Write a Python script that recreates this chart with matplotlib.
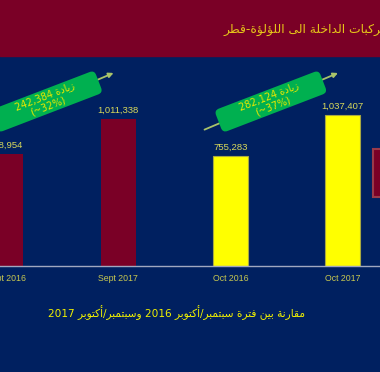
import re
import math
import matplotlib
matplotlib.use('Agg')
import matplotlib.pyplot as plt
import matplotlib.transforms as mtransforms
from matplotlib.patches import Rectangle, FancyBboxPatch

NAVY = '#002060'
MAROON = '#7A0026'
YELLOW = '#FFFF00'
GREEN = '#00B050'
LBL = '#D9D95A'

cats = ['Sept 2016', 'Sept 2017', 'Oct 2016', 'Oct 2017']
vals = [768954, 1011338, 755283, 1037407]
bar_cols = [MAROON, MAROON, YELLOW, YELLOW]
title_txt = 'عدد المركبات الداخلة الى اللؤلؤة-قطر'
foot_txt = 'مقارنة بين فترة سبتمبر/أكتوبر 2016 وسبتمبر/أكتوبر 2017'
inc_word = 'زيادة'

# minimal arabic shaping (presentation forms) + right-to-left ordering
AR = {
    'ا': (0xFE8D, 0xFE8E, None, None), 'أ': (0xFE83, 0xFE84, None, None),
    'ب': (0xFE8F, 0xFE90, 0xFE91, 0xFE92), 'ة': (0xFE93, 0xFE94, None, None),
    'ت': (0xFE95, 0xFE96, 0xFE97, 0xFE98), 'خ': (0xFEA5, 0xFEA6, 0xFEA7, 0xFEA8),
    'د': (0xFEA9, 0xFEAA, None, None), 'ر': (0xFEAD, 0xFEAE, None, None),
    'ز': (0xFEAF, 0xFEB0, None, None), 'س': (0xFEB1, 0xFEB2, 0xFEB3, 0xFEB4),
    'ط': (0xFEC1, 0xFEC2, 0xFEC3, 0xFEC4), 'ع': (0xFEC9, 0xFECA, 0xFECB, 0xFECC),
    'ف': (0xFED1, 0xFED2, 0xFED3, 0xFED4), 'ق': (0xFED5, 0xFED6, 0xFED7, 0xFED8),
    'ك': (0xFED9, 0xFEDA, 0xFEDB, 0xFEDC), 'ل': (0xFEDD, 0xFEDE, 0xFEDF, 0xFEE0),
    'م': (0xFEE1, 0xFEE2, 0xFEE3, 0xFEE4), 'ن': (0xFEE5, 0xFEE6, 0xFEE7, 0xFEE8),
    'و': (0xFEED, 0xFEEE, None, None), 'ؤ': (0xFE85, 0xFE86, None, None),
    'ى': (0xFEEF, 0xFEF0, None, None), 'ي': (0xFEF1, 0xFEF2, 0xFEF3, 0xFEF4),
}
LAM_ALEF = {'ا': (0xFEFB, 0xFEFC), 'أ': (0xFEF7, 0xFEF8)}


def shape(s):
    res, i, n = [], 0, len(s)
    while i < n:
        c = s[i]
        prev = s[i - 1] if i > 0 else ''
        lp = prev in AR and AR[prev][2] is not None
        if c == 'ل' and i + 1 < n and s[i + 1] in LAM_ALEF:
            res.append(chr(LAM_ALEF[s[i + 1]][1 if lp else 0]))
            i += 2
            continue
        if c in AR:
            f = AR[c]
            nxt = s[i + 1] if i + 1 < n else ''
            ln = f[2] is not None and nxt in AR
            g = f[3] if (lp and ln) else f[1] if lp else f[2] if ln else f[0]
            res.append(chr(g))
        else:
            res.append(c)
        i += 1
    return ''.join(res)


def rtl(s):
    v = shape(s)[::-1]
    return re.sub(r'[0-9A-Za-z,.%~]+', lambda m: m.group(0)[::-1], v)


fig = plt.figure(figsize=(3.8, 3.72), dpi=100, facecolor=NAVY)
fig.patches.append(Rectangle((0, 0.8495), 1, 0.16, transform=fig.transFigure,
                             color=MAROON, zorder=0))
fig.text(0.587, 0.922, rtl(title_txt), color='#E6C619', fontsize=8.9,
         family='DejaVu Sans', ha='left', va='center')

ax = fig.add_axes([0, 0.285, 1, 0.5645])
ax.set_facecolor('none')
x = range(len(cats))
ax.bar(x, vals, width=0.31, color=bar_cols,
       edgecolor=['none', 'none', '#A8A840', '#A8A840'], linewidth=0.8, zorder=2)
ax.set_xlim(-0.053, 3.333)
ax.set_ylim(0, 1442700)
for i, v in enumerate(vals):
    ax.annotate(f'{v:,}', (i, v), xytext=(0, 3), textcoords='offset points',
                ha='center', va='bottom', color=LBL, fontsize=6.8,
                family='Liberation Sans')
ax.set_xticks(list(x), cats)
ax.tick_params(length=0, pad=6, labelcolor='#C8C850', labelsize=6.3)
for t in ax.get_xticklabels():
    t.set_family('Liberation Sans')
ax.set_yticks([])
for s in ['top', 'left', 'right']:
    ax.spines[s].set_visible(False)
ax.spines['bottom'].set_color('#A0A8C0')
ax.spines['bottom'].set_linewidth(1)

# increase callouts between each pair
ang = 21
aang = 23
for k in range(2):
    a, b = vals[2 * k], vals[2 * k + 1]
    cx, cy = ax.transData.transform((2 * k + 0.36, 1130000))
    ux, uy = math.cos(math.radians(aang)), math.sin(math.radians(aang))
    ax.annotate('', xy=(cx + 73 * ux, cy + 73 * uy), xytext=(cx - 72 * ux, cy - 72 * uy),
                xycoords='figure pixels', textcoords='figure pixels',
                arrowprops=dict(arrowstyle='-|>', color='#A9C36A', lw=1.3,
                                mutation_scale=7, shrinkA=0, shrinkB=0),
                annotation_clip=False, zorder=3)
    tr = mtransforms.Affine2D().rotate_deg(ang).translate(cx, cy)
    box = FancyBboxPatch((-56, -12), 112, 24, boxstyle='round,pad=0,rounding_size=5',
                         fc=GREEN, ec='none', transform=tr, zorder=4, clip_on=False)
    fig.patches.append(box)
    pct = round((b - a) / a * 100)
    fig.text(cx, cy, f'{b - a:,} ' + rtl(inc_word) + f'\n(~{pct}%)',
             transform=None, rotation=ang, rotation_mode='anchor',
             ha='center', va='center', multialignment='center', linespacing=1.1,
             color='#E8E800', fontsize=7, family='DejaVu Sans', zorder=5)

fig.patches.append(Rectangle((0.9816, 0.4704), 0.05, 0.129, transform=fig.transFigure,
                             fc=MAROON, ec='#9A3A4A', lw=1.5))
fig.text(0.464, 0.159, rtl(foot_txt), color='#F0F000', fontsize=7.6,
         family='DejaVu Sans', ha='center', va='center')

fig.savefig('out.png', dpi=100, facecolor=NAVY)
